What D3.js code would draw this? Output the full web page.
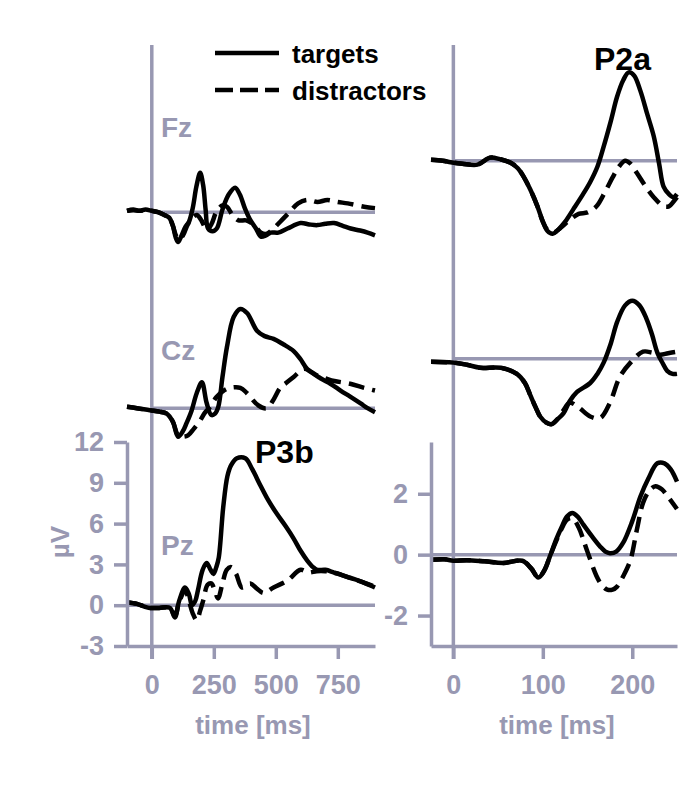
<!DOCTYPE html>
<html>
<head>
<meta charset="utf-8">
<script src="https://cdn.jsdelivr.net/npm/d3@7"></script>
<style>
  body { margin: 0; background: #fff; }
  text { font-family: "Liberation Sans", Arial, sans-serif; font-weight: bold; }
</style>
</head>
<body>
<svg width="685" height="806"></svg>
<script>
// ---- data: [time ms, amplitude uV] ----
var fzLongTargets = [[-100,0.1],[-75,0.2],[-50,0.1],[-25,0.2],[0,0.1],[25,0],[50,-0.2],[70,-0.4],[85,-1.0],[97,-1.9],[106,-2.2],[118,-1.8],[135,-1.1],[150,-0.7],[165,0.3],[180,1.9],[195,2.9],[207,2.0],[217,0.2],[227,-1.2],[245,-1.4],[262,-1.2],[285,0.2],[310,1.3],[336,1.8],[355,1.3],[375,0.3],[395,-0.5],[420,-1.2],[440,-1.8],[460,-1.7],[480,-1.5],[510,-1.5],[547,-1.2],[600,-0.8],[635,-0.9],[668,-0.95],[700,-0.85],[735,-0.8],[770,-1.0],[802,-1.2],[840,-1.35],[870,-1.5],[900,-1.7]];
var fzLongDistractors = [[-100,0.1],[-75,0.15],[-50,0.1],[-25,0.15],[0,0.1],[25,0],[50,-0.2],[70,-0.4],[85,-1.0],[97,-1.7],[110,-2.0],[126,-1.7],[145,-0.9],[167,-0.35],[182,-0.2],[200,-0.6],[222,-1.3],[240,-0.9],[260,0.0],[285,0.5],[303,0.4],[325,-0.2],[350,-0.6],[380,-0.6],[410,-0.9],[440,-1.5],[460,-1.6],[485,-1.3],[518,-0.7],[555,0.0],[590,0.65],[627,0.9],[668,0.75],[708,0.9],[750,0.75],[790,0.65],[856,0.4],[900,0.3]];

var czLongTargets = [[-100,0.1],[-60,0.0],[-8,-0.15],[30,-0.25],[60,-0.4],[85,-1.0],[106,-2.1],[125,-1.7],[140,-1.1],[160,-0.2],[181,1.1],[202,1.9],[221,0.4],[240,-0.5],[255,-0.4],[268,0.1],[285,2.3],[303,4.5],[330,6.7],[357,7.3],[384,7.0],[424,5.7],[455,5.3],[491,5.1],[530,4.7],[572,4.2],[600,3.6],[626,2.9],[680,2.2],[720,1.8],[761,1.3],[800,0.85],[842,0.35],[870,0.0],[900,-0.3]];
var czLongDistractors = [[-100,0.1],[-60,0.0],[-8,-0.15],[30,-0.25],[60,-0.4],[85,-1.0],[106,-2.0],[125,-2.1],[146,-2.0],[170,-1.5],[195,-0.9],[215,-0.3],[235,0.1],[260,0.8],[290,1.3],[316,1.5],[357,1.5],[384,1.1],[430,0.2],[464,0.0],[490,0.6],[518,1.5],[545,1.9],[572,2.3],[613,2.9],[640,2.7],[667,2.4],[700,2.2],[736,2.0],[800,1.8],[856,1.5],[900,1.3]];

var pzLongTargets = [[-100,0.2],[-60,0.1],[-30,-0.1],[-8,-0.2],[30,-0.2],[73,-0.2],[93,-0.9],[110,0.3],[134,1.3],[150,0.8],[162,0.0],[175,0.3],[186,1.1],[205,2.6],[221,3.1],[237,2.6],[249,2.3],[260,2.8],[270,3.5],[288,7.2],[305,9.5],[320,10.3],[343,10.8],[377,10.8],[405,10.0],[438,8.8],[470,7.7],[505,6.7],[540,5.8],[572,4.9],[600,4.0],[626,3.3],[650,2.8],[667,2.6],[700,2.6],[735,2.4],[770,2.2],[802,2.0],[850,1.7],[900,1.3]];
var pzLongDistractors = [[-100,0.2],[-60,0.1],[-30,-0.1],[-8,-0.2],[30,-0.2],[73,-0.2],[93,-0.8],[110,0.2],[134,1.1],[150,0.3],[165,-0.6],[181,-1.1],[195,-0.4],[208,0.4],[225,1.5],[240,1.6],[255,1.0],[267,0.5],[285,1.6],[302,2.6],[320,2.8],[340,2.3],[364,1.3],[397,1.6],[425,1.2],[451,0.9],[491,1.3],[546,1.8],[600,2.6],[632,2.4],[665,2.5],[700,2.5],[735,2.4],[770,2.2],[802,2.0],[850,1.7],[900,1.35]];

var fzShortTargets = [[-25,0.03],[-12,0.0],[-3,-0.05],[10,-0.1],[27,-0.13],[41,0.1],[52,0.05],[64,-0.07],[72,-0.25],[78,-0.5],[86,-0.95],[94,-1.5],[100,-2.0],[105,-2.3],[111,-2.4],[116,-2.3],[125,-2.0],[134,-1.6],[145,-1.1],[153,-0.7],[161,-0.2],[168,0.46],[176,1.3],[183,2.1],[190,2.65],[196,2.9],[202,2.8],[209,2.3],[217,1.5],[224,0.8],[230,-0.1],[235,-0.85],[241,-1.1],[246,-1.2],[250,-1.1]];
var fzShortDistractors = [[-25,0.03],[-12,0.0],[-3,-0.05],[10,-0.1],[27,-0.13],[41,0.1],[52,0.05],[64,-0.07],[72,-0.25],[78,-0.5],[86,-0.95],[94,-1.5],[100,-2.0],[106,-2.3],[113,-2.35],[120,-2.2],[130,-1.95],[140,-1.75],[150,-1.7],[160,-1.5],[170,-1.0],[178,-0.55],[185,-0.2],[192,0.0],[198,-0.1],[205,-0.4],[215,-0.85],[224,-1.2],[235,-1.5],[241,-1.5],[246,-1.35],[250,-1.2]];

var czShortTargets = [[-25,-0.1],[0,-0.13],[15,-0.2],[30,-0.3],[53,-0.3],[71,-0.5],[80,-0.8],[86,-1.2],[92,-1.6],[97,-1.9],[104,-2.1],[110,-2.15],[116,-2.0],[123,-1.8],[130,-1.4],[138,-1.1],[153,-0.8],[161,-0.5],[168,-0.13],[176,0.5],[183,1.2],[192,1.75],[200,1.9],[208,1.75],[216,1.3],[222,0.8],[228,0.2],[234,-0.15],[239,-0.4],[245,-0.5],[250,-0.5]];
var czShortDistractors = [[-25,-0.1],[0,-0.13],[15,-0.2],[30,-0.3],[53,-0.3],[71,-0.5],[80,-0.8],[86,-1.2],[92,-1.6],[97,-1.9],[104,-2.1],[110,-2.15],[116,-2.0],[123,-1.7],[130,-1.45],[140,-1.6],[153,-1.9],[164,-1.95],[175,-1.45],[186,-0.6],[198,-0.13],[212,0.23],[222,0.2],[231,0.13],[240,0.18],[250,0.23]];

var pzShortTargets = [[-25,-0.17],[-10,-0.15],[0,-0.2],[15,-0.18],[35,-0.22],[56,-0.27],[77,-0.2],[87,-0.45],[95,-0.75],[102,-0.5],[108,-0.05],[115,0.5],[121,0.9],[127,1.25],[133,1.37],[139,1.25],[145,1.0],[155,0.6],[164,0.27],[170,0.1],[175,0.05],[182,0.1],[190,0.4],[200,1.1],[209,1.9],[218,2.5],[228,3.0],[236,3.0],[243,2.8],[250,2.4]];
var pzShortDistractors = [[-25,-0.17],[-10,-0.15],[0,-0.2],[15,-0.18],[35,-0.22],[56,-0.27],[77,-0.2],[87,-0.45],[95,-0.75],[102,-0.5],[108,-0.05],[115,0.45],[121,0.85],[127,1.15],[133,1.2],[140,0.9],[149,0.17],[160,-0.7],[166,-1.0],[172,-1.15],[178,-1.15],[183,-1.05],[190,-0.7],[198,-0.17],[205,0.8],[212,1.7],[219,2.1],[226,2.25],[233,2.15],[240,1.9],[250,1.5]];

var longTicksX = [0, 250, 500, 750];
var shortTicksX = [0, 100, 200];
var longTicksY = [-3, 0, 3, 6, 9, 12];
var shortTicksY = [-2, 0, 2];
var legendLabels = ["targets", "distractors"];

// ---- setup ----
var gray = "#9898b2";
var svg = d3.select("svg");

var xLong = d3.scaleLinear().domain([-100, 900]).range([127, 375]);
var yLong = d3.scaleLinear().domain([-3, 12]).range([646, 442]);
var xShort = d3.scaleLinear().domain([-25, 250]).range([431, 677]);
var yShort = d3.scaleLinear().domain([-3, 3.7]).range([646, 442]);

// each row uses the Pz scale shifted up by dy
var columns = [
	{x: xLong, y: yLong, rows: [
		{name: "Fz", dy: -393, labelY: 137, t: fzLongTargets, d: fzLongDistractors},
		{name: "Cz", dy: -197, labelY: 360, t: czLongTargets, d: czLongDistractors},
		{name: "Pz", dy: 0, labelY: 555, t: pzLongTargets, d: pzLongDistractors}]},
	{x: xShort, y: yShort, rows: [
		{dy: -394, t: fzShortTargets, d: fzShortDistractors},
		{dy: -196, t: czShortTargets, d: czShortDistractors},
		{dy: 0, t: pzShortTargets, d: pzShortDistractors}]}
];

columns.forEach(col => {
	var x = col.x, y = col.y;

	// vertical line at stimulus onset
	svg.append("line")
		.attr("x1", x(0)).attr("x2", x(0))
		.attr("y1", 45).attr("y2", y.range()[0] + 13)
		.attr("stroke", gray).attr("stroke-width", 3.5);

	col.rows.forEach(row => {
		if(row.name)
			svg.append("text")
				.attr("x", 161).attr("y", row.labelY)
				.attr("fill", gray).attr("font-size", 28)
				.text(row.name);

		var g = svg.append("g").attr("transform", "translate(0," + row.dy + ")");
		var x0 = row.dy == 0 ? x.range()[0] : x(0);
		g.append("line")
			.attr("x1", x0).attr("x2", x.range()[1])
			.attr("y1", y(0)).attr("y2", y(0))
			.attr("stroke", gray).attr("stroke-width", 3.5);

		var line = d3.line()
			.x(d => x(d[0]))
			.y(d => y(d[1]))
			.curve(d3.curveCatmullRom);

		g.append("path").datum(row.d)
			.attr("d", line)
			.attr("fill", "none").attr("stroke", "#000")
			.attr("stroke-width", 4.5).attr("stroke-dasharray", "16,8");
		g.append("path").datum(row.t)
			.attr("d", line)
			.attr("fill", "none").attr("stroke", "#000")
			.attr("stroke-width", 4.5).attr("stroke-linejoin", "round");
	});
});

// axes
function styleAxis(sel) {
	sel.select(".domain").attr("stroke", gray).attr("stroke-width", 3.5);
	sel.selectAll(".tick line").attr("stroke", gray).attr("stroke-width", 3.5);
	sel.selectAll(".tick text").attr("fill", gray).attr("font-size", 27)
		.attr("font-family", "Liberation Sans, Arial, sans-serif").attr("font-weight", "bold");
}
var fmt = d => String(d);

svg.append("g").attr("transform", "translate(0,646)")
	.call(d3.axisBottom(xLong).tickValues(longTicksX).tickFormat(fmt).tickSize(13).tickSizeOuter(0).tickPadding(16))
	.call(styleAxis);
svg.append("g").attr("transform", "translate(127,0)")
	.call(d3.axisLeft(yLong).tickValues(longTicksY).tickFormat(fmt).tickSize(13).tickSizeOuter(0).tickPadding(10))
	.call(styleAxis);
svg.append("g").attr("transform", "translate(0,646)")
	.call(d3.axisBottom(xShort).tickValues(shortTicksX).tickFormat(fmt).tickSize(13).tickSizeOuter(0).tickPadding(16))
	.call(styleAxis);
svg.append("g").attr("transform", "translate(431,0)")
	.call(d3.axisLeft(yShort).tickValues(shortTicksY).tickFormat(fmt).tickSize(13).tickSizeOuter(0).tickPadding(10))
	.call(styleAxis);

// axis titles
svg.append("text").attr("x", 253).attr("y", 734).attr("text-anchor", "middle")
	.attr("fill", gray).attr("font-size", 26).text("time [ms]");
svg.append("text").attr("x", 557).attr("y", 734).attr("text-anchor", "middle")
	.attr("fill", gray).attr("font-size", 26).text("time [ms]");
svg.append("text").attr("transform", "translate(69,542) rotate(-90)")
	.attr("text-anchor", "middle")
	.attr("fill", gray).attr("font-size", 26).text("µV");

// component labels
svg.append("text").attr("x", 255).attr("y", 463).attr("font-size", 32).text("P3b");
svg.append("text").attr("x", 594).attr("y", 70).attr("font-size", 32).text("P2a");

// legend
legendLabels.forEach((lab, i) => {
	var ly = 53 + i * 37;
	svg.append("line")
		.attr("x1", 215).attr("x2", 279).attr("y1", ly).attr("y2", ly)
		.attr("stroke", "#000").attr("stroke-width", 4.5)
		.attr("stroke-dasharray", i == 0 ? null : "18,7");
	svg.append("text").attr("x", 292).attr("y", ly + 10)
		.attr("font-size", 26).text(lab);
});
</script>
</body>
</html>
